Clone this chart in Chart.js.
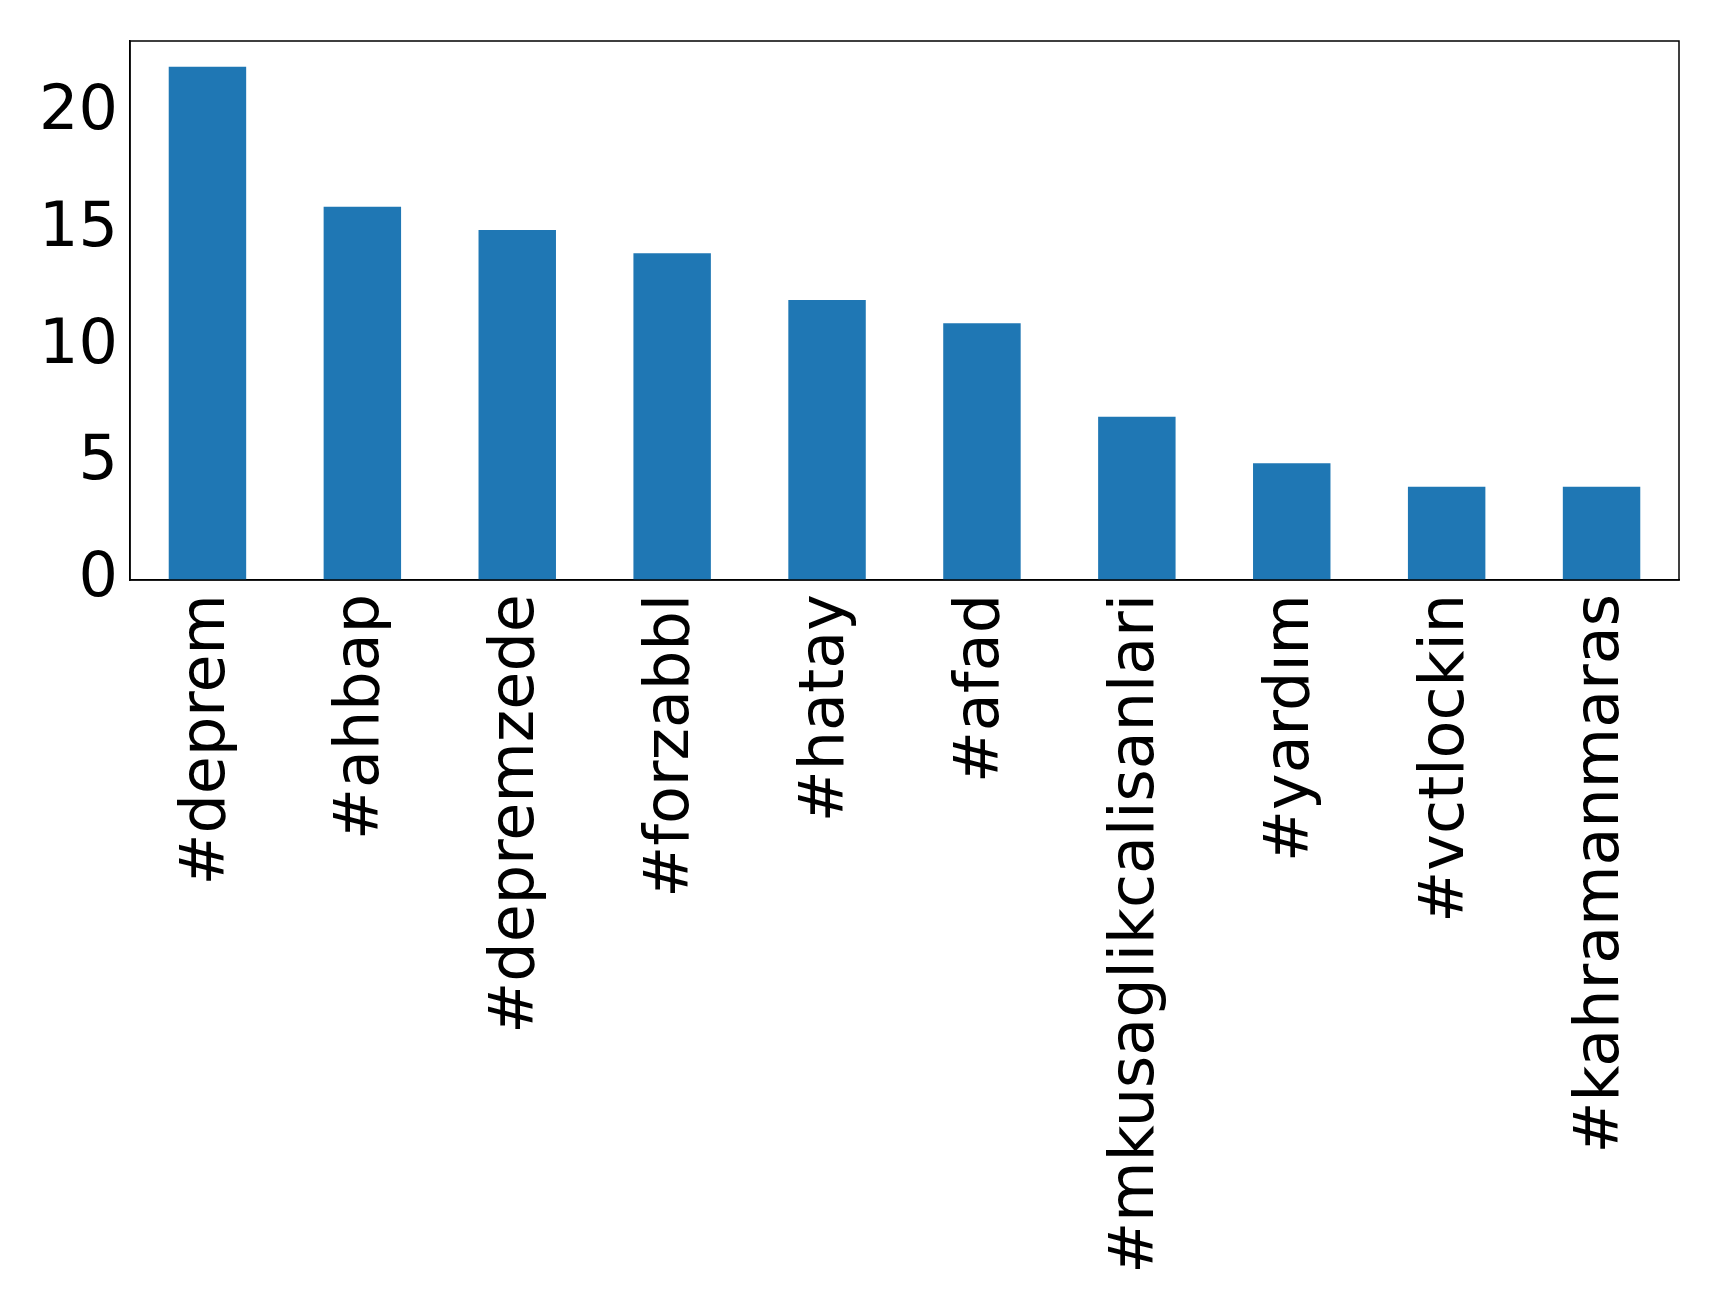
<!DOCTYPE html>
<html>
<head>
<meta charset="utf-8">
<script src="https://cdn.jsdelivr.net/npm/chart.js@4"></script>
<style>
  html, body { margin: 0; padding: 0; background: #fff; }
  #wrap { width: 1719px; height: 1313px; }
</style>
</head>
<body>
<div id="wrap"><canvas id="hashtag-chart"></canvas></div>
<script>
/*global Chart*/

const hashtags = ["#deprem", "#ahbap", "#depremzede", "#forzabbl", "#hatay", "#afad", "#mkusaglikcalisanlari", "#yardım", "#vctlockin", "#kahramanmaras"];
const counts = [22, 16, 15, 14, 12, 11, 7, 5, 4, 4];
const yTicks = [0, 5, 10, 15, 20];

// draws the full box round the plot area, like matplotlib's spines
const frameBox = {
  id: "frameBox",
  afterDatasetsDraw(chart) {
    const { ctx, chartArea } = chart;
    ctx.save();
    ctx.strokeStyle = "#000";
    ctx.lineWidth = 1.5;
    ctx.strokeRect(chartArea.left, chartArea.top, chartArea.right - chartArea.left, chartArea.bottom - chartArea.top);
    ctx.restore();
  },
};

function updateChart() {
  const ctx = document.getElementById("hashtag-chart").getContext("2d");

  new Chart(ctx, {
    type: "bar",
    plugins: [frameBox],
    data: {
      labels: hashtags,
      datasets: [
        {
          data: counts,
          backgroundColor: "#1f77b4",
          barPercentage: 0.5,
          categoryPercentage: 1.0,
        },
      ],
    },
    options: {
      responsive: true,
      maintainAspectRatio: false,
      animation: false,
      layout: { padding: { top: 41, right: 40, left: 0, bottom: 0 } },
      plugins: {
        legend: { display: false },
        tooltip: { enabled: false },
      },
      scales: {
        x: {
          offset: true,
          grid: { display: false, drawTicks: true, tickLength: 10, tickColor: "#000", offset: false },
          border: { display: true, color: "#000", width: 1.5 },
          ticks: {
            color: "#000",
            font: { family: "DejaVu Sans", size: 62 },
            minRotation: 90,
            maxRotation: 90,
            autoSkip: false,
            padding: 4,
          },
          afterFit(scale) {
            scale.height = 733;
          },
        },
        y: {
          min: 0,
          max: 23.1,
          grid: { display: false, drawTicks: true, tickLength: 10, tickColor: "#000" },
          border: { display: true, color: "#000", width: 1.5 },
          afterBuildTicks(scale) {
            scale.ticks = yTicks.map((v) => ({ value: v }));
          },
          ticks: {
            color: "#000",
            font: { family: "DejaVu Sans", size: 62 },
            padding: 2,
          },
          afterFit(scale) {
            scale.width = 130;
          },
        },
      },
    },
  });
}

updateChart();
</script>
</body>
</html>
